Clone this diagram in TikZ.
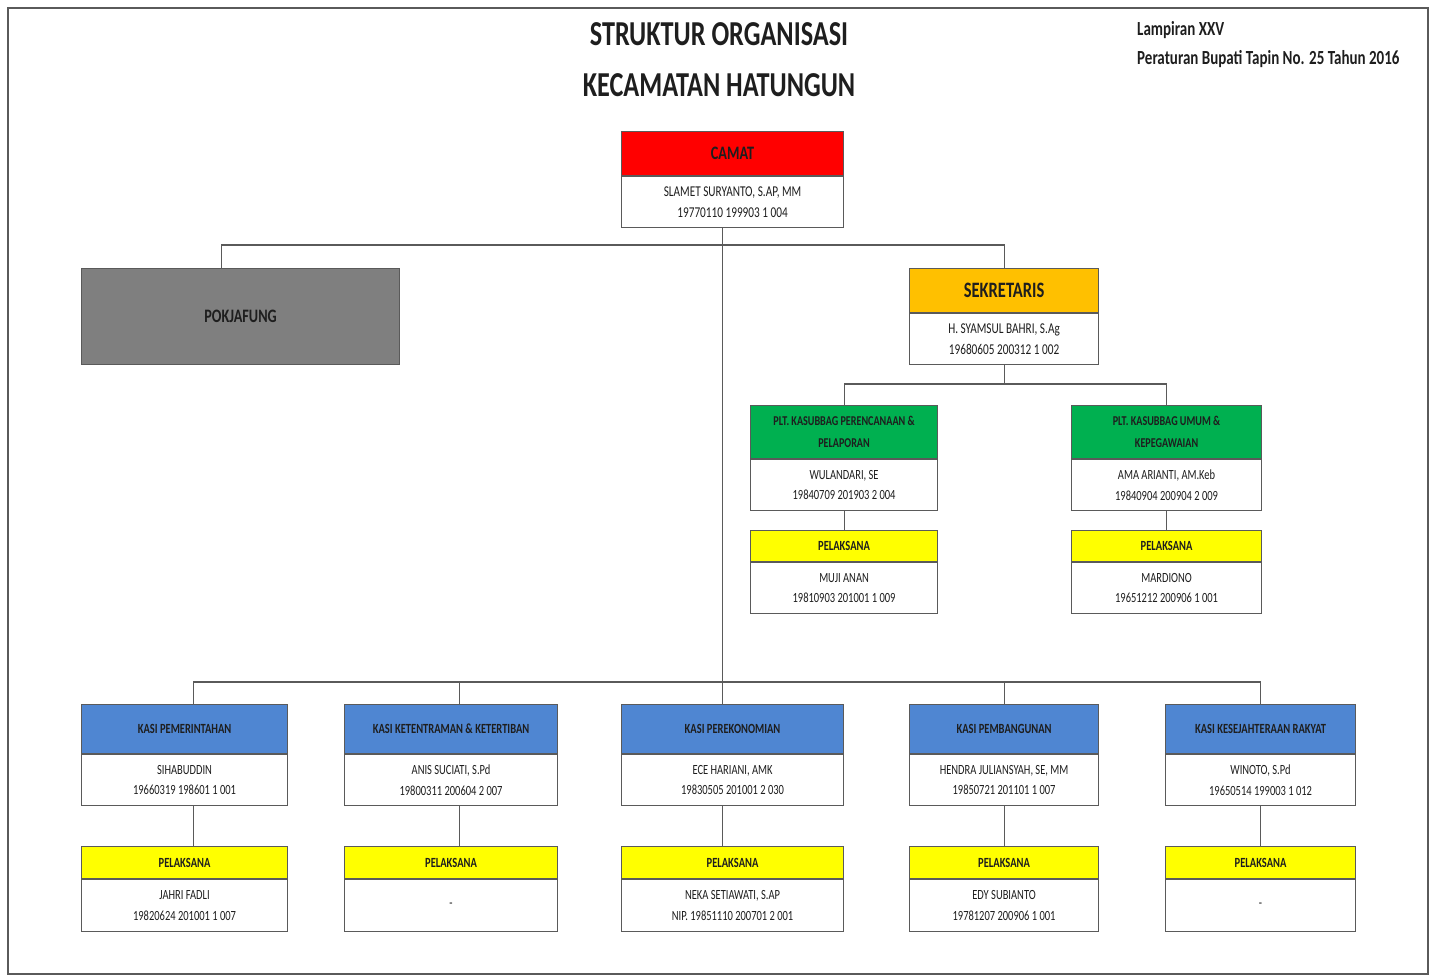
\documentclass[tikz,border=0pt]{standalone}
\usepackage{fontspec}
\setmainfont[FakeStretch=0.75]{Carlito}
\usetikzlibrary{positioning}

\definecolor{garis}{HTML}{5A5A5A}
\definecolor{teks}{HTML}{1E1E1E}
\definecolor{merah}{HTML}{FF0000}
\definecolor{oranye}{HTML}{FFC000}
\definecolor{hijau}{HTML}{00B050}
\definecolor{kuning}{HTML}{FFFF00}
\definecolor{biru}{HTML}{4F86D2}
\definecolor{abu}{HTML}{7F7F7F}

\tikzset{
  kotak/.style={draw=garis, line width=1.1pt, align=center, inner sep=1pt, text=teks},
  kepala/.style={kotak, anchor=north west, font=\bfseries\fontsize{14}{22}\selectfont},
  isi/.style={kotak, fill=white, font=\fontsize{14}{20.5}\selectfont},
  hubung/.style={draw=garis, line width=1.1pt}
}

\begin{document}
\begin{tikzpicture}[x=1pt,y=-1pt]
    \useasboundingbox (0,0) rectangle (1434,978);

    % Bingkai luar
    \draw[line width=2.2pt, garis] (8,8) rectangle (1428,974);

    % Judul
    \node[font=\bfseries\fontsize{35}{40}\selectfont, text=teks] (judul1) at (719,34) {STRUKTUR ORGANISASI};
    \node[font=\bfseries\fontsize{35}{40}\selectfont, text=teks] (judul2) at (719,85) {KECAMATAN HATUNGUN};
    \node[font=\bfseries\fontsize{20}{29}\selectfont, text=teks, anchor=north west, align=left, inner sep=0pt]
        (lampiran) at (1137,21) {Lampiran XXV\\Peraturan Bupati Tapin No. 25 Tahun 2016};

    % Camat
    \node[kepala, fill=merah, minimum width=222, minimum height=44, font=\bfseries\fontsize{19}{22}\selectfont] (camat) at (621,131) {CAMAT};
    \node[isi, below=0pt of camat, minimum width=222, minimum height=51, font=\fontsize{15}{20.5}\selectfont] (camatisi)
        {SLAMET SURYANTO, S.AP, MM\\19770110 199903 1 004};

    % Pokjafung
    \node[kepala, fill=abu, minimum width=318, minimum height=96, font=\bfseries\fontsize{19}{22}\selectfont] (pokja) at (81,268) {POKJAFUNG};

    % Sekretaris
    \node[kepala, fill=oranye, minimum width=189, minimum height=44, font=\bfseries\fontsize{22}{24}\selectfont] (sek) at (909,268) {SEKRETARIS};
    \node[isi, below=0pt of sek, minimum width=189, minimum height=51, font=\fontsize{15}{20.5}\selectfont] (sekisi)
        {H. SYAMSUL BAHRI, S.Ag\\19680605 200312 1 002};

    % Kasubbag
    \node[kepala, fill=hijau, minimum width=187, minimum height=53, font=\bfseries\fontsize{13.5}{22}\selectfont] (sb1) at (750,405)
        {PLT. KASUBBAG PERENCANAAN \&\\PELAPORAN};
    \node[isi, below=0pt of sb1, minimum width=187, minimum height=51] (sb1isi) {WULANDARI, SE\\19840709 201903 2 004};
    \node[kepala, fill=hijau, minimum width=190, minimum height=53, font=\bfseries\fontsize{13.5}{22}\selectfont] (sb2) at (1071,405)
        {PLT. KASUBBAG UMUM \&\\KEPEGAWAIAN};
    \node[isi, below=0pt of sb2, minimum width=190, minimum height=51] (sb2isi) {AMA ARIANTI, AM.Keb\\19840904 200904 2 009};

    % Pelaksana kasubbag
    \node[kepala, fill=kuning, minimum width=187, minimum height=31] (ps1) at (750,530) {PELAKSANA};
    \node[isi, below=0pt of ps1, minimum width=187, minimum height=51] (ps1isi) {MUJI ANAN\\19810903 201001 1 009};
    \node[kepala, fill=kuning, minimum width=190, minimum height=31] (ps2) at (1071,530) {PELAKSANA};
    \node[isi, below=0pt of ps2, minimum width=190, minimum height=51] (ps2isi) {MARDIONO\\19651212 200906 1 001};

    % Kasi
    \node[kepala, fill=biru, minimum width=206, minimum height=49] (k1) at (81,704) {KASI PEMERINTAHAN};
    \node[isi, below=0pt of k1, minimum width=206, minimum height=51] (k1isi) {SIHABUDDIN\\19660319 198601 1 001};
    \node[kepala, fill=biru, minimum width=213, minimum height=49] (k2) at (344,704) {KASI KETENTRAMAN \& KETERTIBAN};
    \node[isi, below=0pt of k2, minimum width=213, minimum height=51] (k2isi) {ANIS SUCIATI, S.Pd\\19800311 200604 2 007};
    \node[kepala, fill=biru, minimum width=222, minimum height=49] (k3) at (621,704) {KASI PEREKONOMIAN};
    \node[isi, below=0pt of k3, minimum width=222, minimum height=51] (k3isi) {ECE HARIANI, AMK\\19830505 201001 2 030};
    \node[kepala, fill=biru, minimum width=189, minimum height=49] (k4) at (909,704) {KASI PEMBANGUNAN};
    \node[isi, below=0pt of k4, minimum width=189, minimum height=51] (k4isi) {HENDRA JULIANSYAH, SE, MM\\19850721 201101 1 007};
    \node[kepala, fill=biru, minimum width=190, minimum height=49] (k5) at (1165,704) {KASI KESEJAHTERAAN RAKYAT};
    \node[isi, below=0pt of k5, minimum width=190, minimum height=51] (k5isi) {WINOTO, S.Pd\\19650514 199003 1 012};

    % Pelaksana kasi
    \node[kepala, fill=kuning, minimum width=206, minimum height=32] (p1) at (81,846) {PELAKSANA};
    \node[isi, below=0pt of p1, minimum width=206, minimum height=52] (p1isi) {JAHRI FADLI\\19820624 201001 1 007};
    \node[kepala, fill=kuning, minimum width=213, minimum height=32] (p2) at (344,846) {PELAKSANA};
    \node[isi, below=0pt of p2, minimum width=213, minimum height=52] (p2isi) {-};
    \node[kepala, fill=kuning, minimum width=222, minimum height=32] (p3) at (621,846) {PELAKSANA};
    \node[isi, below=0pt of p3, minimum width=222, minimum height=52] (p3isi) {NEKA SETIAWATI, S.AP\\NIP. 19851110 200701 2 001};
    \node[kepala, fill=kuning, minimum width=189, minimum height=32] (p4) at (909,846) {PELAKSANA};
    \node[isi, below=0pt of p4, minimum width=189, minimum height=52] (p4isi) {EDY SUBIANTO\\19781207 200906 1 001};
    \node[kepala, fill=kuning, minimum width=190, minimum height=32] (p5) at (1165,846) {PELAKSANA};
    \node[isi, below=0pt of p5, minimum width=190, minimum height=52] (p5isi) {-};

    % Garis penghubung
    \coordinate (atas) at (0,245);
    \coordinate (tengah) at (0,384);
    \coordinate (bawah) at (0,682);
    \coordinate (cm) at ([xshift=-10pt]camatisi.south);
    \coordinate (pj) at ([xshift=-19pt]pokja.north);
    \draw[hubung] (cm) -- (cm |- bawah);
    \draw[hubung] (pj) |- (sek.north |- atas) -- (sek.north);
    \draw[hubung] (sekisi.south) -- (sekisi.south |- tengah);
    \draw[hubung] (sb1.north) |- (sb2.north |- tengah) -- (sb2.north);
    \draw[hubung] (sb1isi.south) -- (ps1.north);
    \draw[hubung] (sb2isi.south) -- (ps2.north);
    \foreach \k/\g in {1/9,2/8,3/-10,4/0,5/0}{
        \coordinate (t\k) at ([xshift=\g pt]k\k.north);
        \coordinate (b\k) at ([xshift=\g pt]k\k isi.south);
        \draw[hubung] (b\k) -- (b\k |- p\k.north);
    }
    \draw[hubung] (t1) |- (t5 |- bawah) -- (t5);
    \foreach \k in {2,3,4}
        \draw[hubung] (t\k) -- (t\k |- bawah);
\end{tikzpicture}
\end{document}
